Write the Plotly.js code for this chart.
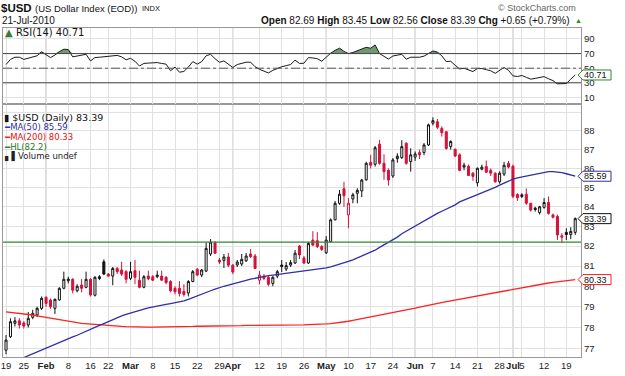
<!DOCTYPE html>
<html>
<head>
<meta charset="utf-8">
<script src="https://cdn.plot.ly/plotly-3.0.1.min.js"></script>
<style>
  html, body { margin: 0; padding: 0; background: #fff; }
  #chart { width: 625px; height: 376px; }
</style>
</head>
<body>
<div id="chart"></div>
<script>
// ---- daily data, $USD Jan 19 - Jul 21 2010 ----
const dates = [
  "2010-01-19","2010-01-20","2010-01-21","2010-01-22","2010-01-25","2010-01-26","2010-01-27","2010-01-28","2010-01-29",
  "2010-02-01","2010-02-02","2010-02-03","2010-02-04","2010-02-05","2010-02-08","2010-02-09","2010-02-10","2010-02-11","2010-02-12",
  "2010-02-16","2010-02-17","2010-02-18","2010-02-19","2010-02-22","2010-02-23","2010-02-24","2010-02-25","2010-02-26",
  "2010-03-01","2010-03-02","2010-03-03","2010-03-04","2010-03-05","2010-03-08","2010-03-09","2010-03-10","2010-03-11","2010-03-12",
  "2010-03-15","2010-03-16","2010-03-17","2010-03-18","2010-03-19","2010-03-22","2010-03-23","2010-03-24","2010-03-25","2010-03-26",
  "2010-03-29","2010-03-30","2010-03-31",
  "2010-04-01","2010-04-05","2010-04-06","2010-04-07","2010-04-08","2010-04-09","2010-04-12","2010-04-13","2010-04-14","2010-04-15","2010-04-16",
  "2010-04-19","2010-04-20","2010-04-21","2010-04-22","2010-04-23","2010-04-26","2010-04-27","2010-04-28","2010-04-29","2010-04-30",
  "2010-05-03","2010-05-04","2010-05-05","2010-05-06","2010-05-07","2010-05-10","2010-05-11","2010-05-12","2010-05-13","2010-05-14",
  "2010-05-17","2010-05-18","2010-05-19","2010-05-20","2010-05-21","2010-05-24","2010-05-25","2010-05-26","2010-05-27","2010-05-28",
  "2010-06-01","2010-06-02","2010-06-03","2010-06-04","2010-06-07","2010-06-08","2010-06-09","2010-06-10","2010-06-11",
  "2010-06-14","2010-06-15","2010-06-16","2010-06-17","2010-06-18","2010-06-21","2010-06-22","2010-06-23","2010-06-24","2010-06-25",
  "2010-06-28","2010-06-29","2010-06-30",
  "2010-07-01","2010-07-02","2010-07-05","2010-07-06","2010-07-07","2010-07-08","2010-07-09","2010-07-12","2010-07-13","2010-07-14",
  "2010-07-15","2010-07-16","2010-07-19","2010-07-20","2010-07-21"
];

const openP = [
  76.92,77.56,78.20,78.32,78.22,78.12,78.49,78.60,78.92,
  79.46,79.33,78.92,79.33,79.90,80.27,80.34,79.78,80.06,79.95,
  80.34,79.56,80.38,81.21,80.60,80.50,80.88,80.80,80.72,
  80.39,80.77,80.30,79.95,80.50,80.47,80.47,80.50,80.44,80.23,
  79.90,79.90,79.75,79.67,80.23,80.84,80.55,80.75,81.60,82.15,
  81.30,81.28,81.45,
  81.04,81.05,81.10,81.26,81.60,81.50,80.30,80.50,80.44,80.14,80.50,
  81.05,80.85,81.05,81.15,82.00,81.40,81.15,82.30,82.27,81.97,
  81.66,82.22,83.33,84.18,84.93,83.58,84.40,84.70,84.82,85.40,
  86.32,86.22,87.29,86.27,85.90,85.60,86.52,86.58,87.34,86.37,
  86.60,86.84,86.84,87.25,88.42,88.50,88.14,87.96,87.16,
  87.02,86.72,86.07,86.12,85.75,85.25,85.96,86.10,85.90,85.75,
  85.30,85.70,86.27,
  86.12,84.64,84.53,84.65,84.18,83.93,83.70,83.97,84.22,83.58,
  83.50,82.44,82.69,82.58,82.69
];
const highP = [
  77.64,78.44,78.50,78.45,78.30,78.75,78.85,79.00,79.50,
  79.50,79.40,79.40,79.95,80.72,80.47,80.40,80.10,80.35,80.72,
  80.40,80.50,80.55,81.33,80.65,80.95,80.95,81.21,80.80,
  81.21,81.30,80.77,80.55,80.77,80.55,80.77,80.77,80.50,80.30,
  80.00,80.25,80.10,80.30,80.80,80.90,80.85,82.17,82.35,82.25,
  81.40,81.60,81.65,
  81.10,81.30,81.60,81.65,81.85,81.60,80.75,80.60,80.50,80.50,80.80,
  81.30,81.20,81.30,81.80,82.05,81.50,82.20,82.75,82.70,82.05,
  82.50,83.40,84.30,84.87,85.30,84.45,84.72,84.96,85.45,86.35,
  86.72,87.20,87.52,86.75,86.00,86.55,86.80,87.50,87.40,87.07,
  86.90,87.00,87.35,88.40,88.74,88.65,88.25,88.00,87.50,
  87.05,86.80,86.30,86.20,85.80,86.05,86.20,86.42,86.00,85.80,
  85.85,86.35,86.40,
  86.20,84.70,84.70,84.95,84.20,84.00,84.05,84.45,84.53,83.65,
  83.60,82.65,82.90,82.95,83.45
];
const lowP = [
  76.73,77.50,78.05,77.95,77.95,78.00,78.40,78.50,78.85,
  79.00,78.90,78.65,79.30,79.85,80.14,79.65,79.70,79.70,79.90,
  79.50,79.50,80.30,80.55,80.45,80.05,80.60,80.50,80.14,
  80.30,80.10,79.90,79.90,80.30,80.25,80.40,80.25,80.10,79.70,
  79.60,79.50,79.50,79.50,80.20,80.50,80.45,80.70,81.50,81.60,
  81.10,80.90,80.95,
  80.60,80.95,81.00,81.20,81.40,80.85,80.10,80.30,80.00,80.00,80.40,
  80.70,80.75,80.95,81.10,81.35,81.10,81.10,82.00,81.90,81.75,
  81.60,82.20,83.30,84.10,84.00,82.90,84.18,84.18,84.50,85.35,
  86.00,86.10,86.20,85.40,85.10,85.50,86.30,86.50,86.20,85.83,
  86.40,86.50,86.70,87.20,88.30,88.10,87.70,87.00,87.00,
  86.60,85.85,85.90,85.60,85.35,85.05,85.90,85.75,85.60,85.25,
  85.20,85.60,86.00,
  84.45,84.30,84.45,84.10,83.75,83.75,83.60,83.90,83.60,83.40,
  82.30,82.14,82.30,82.35,82.56
];
const closeP = [
  77.40,78.28,78.32,78.12,78.07,78.44,78.68,78.92,79.41,
  79.16,79.00,79.36,79.90,80.34,80.35,79.81,80.00,79.90,80.34,
  79.57,80.44,80.47,80.60,80.50,80.88,80.72,80.60,80.34,
  80.72,80.44,79.95,80.47,80.37,80.30,80.55,80.30,80.18,79.78,
  79.73,79.65,79.60,80.23,80.72,80.55,80.80,81.88,82.20,81.64,
  81.20,81.45,81.04,
  80.70,81.20,81.33,81.50,81.47,80.88,80.55,80.39,80.10,80.44,80.72,
  80.97,81.02,81.17,81.64,81.55,81.15,82.13,82.05,81.97,81.83,
  82.30,83.33,84.18,84.65,84.57,84.18,84.62,84.85,85.39,86.27,
  86.17,87.10,86.27,85.83,85.39,86.45,86.65,87.16,86.27,86.72,
  86.77,86.72,87.25,88.33,88.56,88.20,87.91,87.06,87.43,
  86.66,85.90,86.17,85.63,85.58,86.01,86.07,85.80,85.75,85.30,
  85.75,86.17,86.07,
  84.54,84.47,84.62,84.18,83.83,83.86,84.00,84.22,83.65,83.46,
  82.56,82.52,82.58,82.74,83.39
];
const ma50 = [
  76.22,76.31,76.40,76.48,76.56,76.65,76.74,76.84,76.93,
  77.03,77.11,77.19,77.28,77.37,77.46,77.55,77.63,77.73,77.83,
  77.92,78.01,78.10,78.19,78.29,78.39,78.48,78.56,78.63,
  78.70,78.76,78.82,78.88,78.94,78.99,79.03,79.07,79.11,79.15,
  79.19,79.23,79.28,79.36,79.45,79.54,79.62,79.70,79.78,79.86,
  79.94,80.00,80.06,
  80.11,80.17,80.23,80.29,80.35,80.40,80.45,80.49,80.52,80.55,80.58,
  80.61,80.63,80.66,80.69,80.71,80.74,80.77,80.80,80.83,80.87,
  80.91,80.96,81.02,81.08,81.15,81.23,81.31,81.40,81.49,81.58,
  81.68,81.79,81.93,82.05,82.17,82.30,82.45,82.62,82.75,82.88,
  83.00,83.13,83.30,83.42,83.55,83.66,83.77,83.87,83.98,
  84.10,84.25,84.34,84.43,84.52,84.62,84.74,84.83,84.92,85.01,
  85.12,85.23,85.33,
  85.44,85.50,85.55,85.60,85.64,85.69,85.74,85.79,85.83,85.83,
  85.81,85.78,85.72,85.66,85.59
];
const ma200 = [
  78.75,78.73,78.71,78.69,78.67,78.64,78.60,78.56,78.52,
  78.48,78.45,78.41,78.37,78.33,78.29,78.26,78.23,78.20,78.18,
  78.16,78.14,78.12,78.10,78.09,78.07,78.06,78.05,78.04,
  78.03,78.03,78.03,78.02,78.02,78.02,78.02,78.02,78.03,78.03,
  78.03,78.04,78.04,78.05,78.05,78.06,78.06,78.07,78.07,78.07,
  78.08,78.08,78.08,
  78.09,78.09,78.09,78.10,78.10,78.10,78.10,78.10,78.11,78.11,78.11,
  78.12,78.12,78.12,78.12,78.13,78.13,78.14,78.14,78.15,78.16,
  78.17,78.19,78.21,78.24,78.27,78.30,78.34,78.38,78.42,78.46,
  78.50,78.54,78.58,78.62,78.66,78.70,78.74,78.79,78.84,78.89,
  78.93,78.98,79.03,79.08,79.12,79.17,79.21,79.25,79.29,
  79.33,79.37,79.41,79.45,79.49,79.52,79.56,79.60,79.64,79.68,
  79.72,79.77,79.82,
  79.87,79.91,79.95,79.99,80.03,80.07,80.10,80.13,80.16,80.19,
  80.22,80.25,80.28,80.31,80.33
];
const rsi14 = [
  55,62,65,65,62,64,66,67,72.5,
  68,64.5,68,72.7,76,75.5,65.5,66.5,67,69,
  60,64.5,65,65.5,66,67,67.5,65.5,61.5,
  63.5,59.5,53,56.5,57,57.5,57.7,56.5,55.5,46.5,
  51.5,44.5,45.5,51.5,59,55.5,59,67,69,63,
  58,60,55,
  51,55,57,58.2,58.2,52,48.5,46.3,43.5,47,50,
  52,53.5,55,61,56.5,56.8,64.5,64,63,59.5,
  65,70.5,74.5,77.3,73,70,71.5,74,76.5,78.6,
  77.3,81.8,70,66,62.5,66.7,67.5,69,62.3,65,
  65,65,66.5,69.5,73.6,72,67,59,59.5,
  54,49,50,47.5,45.4,49.5,49.5,48,46.5,43,
  47,51,47,
  39.5,38.6,40,37.5,35,36,37.5,38.5,35.5,33,
  28.6,28.6,29,35,40.71
];
const hlLevel = 82.2;

// date axis labels
const tickDates = ["2010-01-19","2010-01-25","2010-02-01","2010-02-08","2010-02-16","2010-02-22",
  "2010-03-01","2010-03-08","2010-03-15","2010-03-22","2010-03-29","2010-04-01","2010-04-12",
  "2010-04-19","2010-04-26","2010-05-03","2010-05-10","2010-05-17","2010-05-24","2010-06-01",
  "2010-06-07","2010-06-14","2010-06-21","2010-06-28","2010-07-01","2010-07-05","2010-07-12","2010-07-19"];
const tickText = ["19","25","Feb","8","16","22","Mar","8","15","22","29","Apr","12","19","26",
  "May","10","17","24","Jun","7","14","21","28","Jul","5","12","19"];
const monthNames = ["Feb","Mar","Apr","May","Jun","Jul"];
const priceTicks = [77,78,79,80,81,82,83,84,85,86,87,88,89];
const rsiTicks = [10,30,50,70,90];

// ---- geometry ----
const W = 625, H = 376;
const M = {l: 3, r: 44, t: 28, b: 19};
const PW = W - M.l - M.r, PH = H - M.t - M.b;
const px = x => (x - M.l) / PW;          // pixel -> paper x
const py = y => (H - M.b - y) / PH;      // pixel -> paper y
const split = py(104);

const idx = dates.map((d, i) => i);
const tickPos = tickDates.map(d => dates.indexOf(d));
const monthPos = tickPos.filter((p, k) => monthNames.includes(tickText[k]));

// candles coloured by close vs previous close, hollow when close > open
const upIdx = [], dnIdx = [];
closeP.forEach((c, i) => { (i === 0 || c >= closeP[i - 1]) ? upIdx.push(i) : dnIdx.push(i); });
const pick = (arr, ids) => ids.map(i => arr[i]);
const RED = '#d4123a';
const BLK = '#111111';
const BLUE = '#2f2fa6';
const MARED = '#ff2020';
const GREEN = '#2f8a2f';

function candles(ids, col) {
  return {
    type: 'candlestick', xaxis: 'x', yaxis: 'y',
    x: ids, open: pick(openP, ids), high: pick(highP, ids), low: pick(lowP, ids), close: pick(closeP, ids),
    increasing: {line: {color: col, width: 1}, fillcolor: '#ffffff'},
    decreasing: {line: {color: col, width: 1}, fillcolor: col},
    whiskerwidth: 0, hoverinfo: 'skip', showlegend: false
  };
}

const ob = rsi14.map(v => Math.max(v, 70));
const os = rsi14.map(v => Math.min(v, 30));
const l70 = rsi14.map(() => 70);
const l30 = rsi14.map(() => 30);
const FILL = '#6f9a6f';

const traces = [
  {x: idx, y: l70, xaxis: 'x2', yaxis: 'y2', mode: 'lines', line: {width: 0}, hoverinfo: 'skip'},
  {x: idx, y: ob, xaxis: 'x2', yaxis: 'y2', mode: 'lines', line: {width: 0}, fill: 'tonexty', fillcolor: FILL, hoverinfo: 'skip'},
  {x: idx, y: l30, xaxis: 'x2', yaxis: 'y2', mode: 'lines', line: {width: 0}, hoverinfo: 'skip'},
  {x: idx, y: os, xaxis: 'x2', yaxis: 'y2', mode: 'lines', line: {width: 0}, fill: 'tonexty', fillcolor: FILL, hoverinfo: 'skip'},
  {x: idx, y: rsi14, xaxis: 'x2', yaxis: 'y2', mode: 'lines', line: {color: '#1a1a1a', width: 1}, hoverinfo: 'skip'},
  {x: idx, y: ma200, xaxis: 'x', yaxis: 'y', mode: 'lines', line: {color: MARED, width: 1.3}, hoverinfo: 'skip'},
  {x: idx, y: ma50, xaxis: 'x', yaxis: 'y', mode: 'lines', line: {color: BLUE, width: 1.3}, hoverinfo: 'skip'},
  candles(upIdx, BLK),
  candles(dnIdx, RED)
];

// ---- reference lines and month separators ----
const shapes = [];
monthPos.forEach(p => shapes.push({type: 'line', xref: 'x', yref: 'paper', x0: p, x1: p, y0: 0, y1: 1,
  line: {color: '#b4b4b4', width: 1}, layer: 'below'}));
shapes.push({type: 'line', xref: 'paper', yref: 'y2', x0: 0, x1: 1, y0: 70, y1: 70, line: {color: '#444', width: 1}});
shapes.push({type: 'line', xref: 'paper', yref: 'y2', x0: 0, x1: 1, y0: 30, y1: 30, line: {color: '#444', width: 1}});
shapes.push({type: 'line', xref: 'paper', yref: 'y2', x0: 0, x1: 1, y0: 50, y1: 50, line: {color: '#555', width: 1, dash: 'dashdot'}});
shapes.push({type: 'line', xref: 'paper', yref: 'y', x0: 0, x1: 1, y0: hlLevel, y1: hlLevel, line: {color: GREEN, width: 1.3}});

// value tags on the right axis
const last = closeP.length - 1;
const annotations = [];
function tag(value, yref, col, logAxis) {
  shapes.push({type: 'path', xref: 'paper', yref: yref, xsizemode: 'pixel', ysizemode: 'pixel',
    xanchor: 1, yanchor: value, path: 'M-3,0 L2,5 L30,5 L30,-5 L2,-5 Z',
    fillcolor: '#ffffff', line: {color: col, width: 1}, layer: 'above'});
  annotations.push({xref: 'paper', yref: yref, x: px(582), y: logAxis ? Math.log10(value) : value,
    xanchor: 'left', yanchor: 'middle', showarrow: false, text: value.toFixed(2),
    font: {size: 9, color: '#111'}});
}
tag(rsi14[last], 'y2', GREEN, false);
tag(ma50[last], 'y', BLUE, true);
tag(closeP[last], 'y', BLK, true);
tag(ma200[last], 'y', MARED, true);

// ---- header and legend texts ----
function note(x, y, text, opts) {
  annotations.push(Object.assign({xref: 'paper', yref: 'paper', x: px(x), y: py(y), text: text,
    showarrow: false, xanchor: 'left', yanchor: 'middle', align: 'left',
    font: {size: 10, color: '#111'}}, opts || {}));
}
const chg = closeP[last] - closeP[last - 1];
const pct = chg / closeP[last - 1] * 100;
const sgn = v => (v >= 0 ? '+' : '') + v.toFixed(2);

note(-1, 8, '<b>$USD</b>', {font: {size: 11.5, color: '#111'}});
note(33, 8, '(US Dollar Index (EOD))', {font: {size: 9.5, color: '#111'}});
note(140, 8, 'INDX', {font: {size: 7.5, color: '#111'}});
note(0, 20, '21-Jul-2010', {font: {size: 10, color: '#111'}});
note(572, 20, '<b>Open</b> ' + openP[last].toFixed(2) + ' <b>High</b> ' + highP[last].toFixed(2) +
  ' <b>Low</b> ' + lowP[last].toFixed(2) + ' <b>Close</b> ' + closeP[last].toFixed(2) +
  ' <b>Chg</b> ' + sgn(chg) + ' (' + sgn(pct) + '%)', {xanchor: 'right', font: {size: 10, color: '#111'}});
note(573, 20, '▲', {font: {size: 7, color: '#1a8a1a'}});
note(578, 8, '© StockCharts.com', {xanchor: 'right', font: {size: 9, color: '#666'}});

note(3, 33, '<span style="color:#3a7a3a">▲</span> RSI(14) ' + rsi14[last].toFixed(2),
  {font: {size: 10, color: '#111', family: 'DejaVu Sans'}});

note(2, 117, '▮ $USD (Daily) ' + closeP[last].toFixed(2), {font: {size: 9.5, color: '#111', family: 'DejaVu Sans'}});
note(2, 127, '<span style="color:' + BLUE + '">━</span>MA(50) ' + ma50[last].toFixed(2),
  {font: {size: 8.5, color: BLUE, family: 'DejaVu Sans'}});
note(2, 137, '<span style="color:' + MARED + '">━</span>MA(200) ' + ma200[last].toFixed(2),
  {font: {size: 8.5, color: '#e01010', family: 'DejaVu Sans'}});
note(2, 147, '<span style="color:' + GREEN + '">━</span>HL(' + hlLevel + ')',
  {font: {size: 8.5, color: '#1f7a1f', family: 'DejaVu Sans'}});
note(2, 156, '▖▌Volume undef', {font: {size: 8.5, color: '#222', family: 'DejaVu Sans'}});

// ---- axes ----
const gridCol = '#e1e1e1';
const xBase = {
  range: [-0.68, 129.3], tickmode: 'array', tickvals: tickPos,
  ticktext: tickText.map(t => monthNames.includes(t) ? '<b>' + t + '</b>' : t),
  tickangle: 0, showgrid: true, gridcolor: gridCol, zeroline: false,
  showline: true, mirror: true, linecolor: '#999', linewidth: 1, ticks: '',
  rangeslider: {visible: false}, fixedrange: true
};
const layout = {
  width: W, height: H, margin: {l: M.l, r: M.r, t: M.t, b: M.b, pad: 0},
  paper_bgcolor: '#ffffff', plot_bgcolor: '#ffffff', showlegend: false,
  font: {family: 'Liberation Sans, Arial, sans-serif', size: 9, color: '#222'},
  boxgap: 0.35,
  xaxis: Object.assign({}, xBase, {anchor: 'y', domain: [0, 1], tickfont: {size: 9.5, color: '#222'}}),
  xaxis2: Object.assign({}, xBase, {anchor: 'y2', domain: [0, 1], matches: 'x', showticklabels: false}),
  yaxis: {
    domain: [0, split], type: 'log', range: [Math.log10(76.6), Math.log10(89.47)], side: 'right',
    tickmode: 'array', tickvals: priceTicks, ticktext: priceTicks.map(v => v === 89 ? '' : String(v)),
    showgrid: true, gridcolor: gridCol, zeroline: false, showline: true, mirror: true,
    linecolor: '#999', linewidth: 1, ticks: '', fixedrange: true, tickfont: {size: 9.5, color: '#222'}
  },
  yaxis2: {
    domain: [split, 1], range: [1, 105], side: 'right', tickmode: 'array', tickvals: rsiTicks,
    showgrid: true, gridcolor: gridCol, zeroline: false, showline: true, mirror: true,
    linecolor: '#999', linewidth: 1, ticks: '', fixedrange: true, tickfont: {size: 9.5, color: '#222'}
  },
  shapes: shapes,
  annotations: annotations
};

Plotly.newPlot('chart', traces, layout, {staticPlot: true, displayModeBar: false});
</script>
</body>
</html>
